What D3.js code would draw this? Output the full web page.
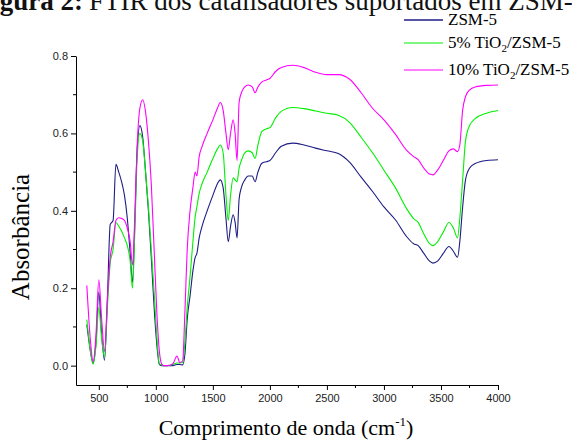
<!DOCTYPE html>
<html>
<head>
<meta charset="utf-8">
<script src="https://cdn.jsdelivr.net/npm/d3@7"></script>
<style>
body { margin: 0; background: #fff; }
svg { display: block; }
.tick text { font-family: "Liberation Sans", Arial, sans-serif; font-size: 11px; fill: #222; }
</style>
</head>
<body>
<div id="chart"></div>
<script>
// wavenumbers (cm-1) shared by the three spectra
var wavenumber = [395, 425, 450, 475, 500, 525, 550, 575, 600, 625, 650, 675, 700, 725, 750, 775, 795, 815, 835, 860,
  885, 910, 935, 960, 985, 1010, 1030, 1050, 1070, 1100, 1150, 1185, 1210, 1235, 1255, 1275, 1300, 1325, 1345, 1360,
  1380, 1405, 1450, 1500, 1540, 1565, 1590, 1615, 1635, 1655, 1678, 1695, 1712, 1730, 1750, 1780, 1810, 1845, 1870, 1895,
  1930, 1970, 2000, 2050, 2100, 2200, 2300, 2400, 2500, 2600, 2700, 2800, 2900, 3000, 3100, 3200, 3260, 3300, 3350, 3400,
  3430, 3470, 3520, 3570, 3610, 3645, 3665, 3690, 3715, 3750, 3800, 3900, 4000];

var zsm5 = [0.106, 0.04, 0.006, 0.06, 0.19, 0.08, 0.014, 0.17, 0.365, 0.375, 0.52, 0.50, 0.475, 0.44, 0.38, 0.29, 0.215, 0.36, 0.55, 0.62,
  0.59, 0.50, 0.40, 0.28, 0.15, 0.05, 0.004, 0.0, 0.0, 0.0, 0.0, 0.003, 0.003, 0.002, 0.03, 0.12, 0.18, 0.245, 0.28, 0.29,
  0.33, 0.36, 0.40, 0.44, 0.47, 0.48, 0.46, 0.38, 0.32, 0.36, 0.39, 0.37, 0.33, 0.43, 0.46, 0.48, 0.49, 0.49, 0.475, 0.50,
  0.523, 0.527, 0.53, 0.55, 0.567, 0.575, 0.57, 0.562, 0.555, 0.548, 0.525, 0.487, 0.45, 0.41, 0.377, 0.333, 0.315, 0.31, 0.29, 0.27,
  0.265, 0.27, 0.29, 0.308, 0.295, 0.28, 0.32, 0.41, 0.48, 0.51, 0.522, 0.53, 0.532];

var tio2_5 = [0.119, 0.04, 0.004, 0.05, 0.15, 0.07, 0.022, 0.15, 0.265, 0.30, 0.37, 0.36, 0.347, 0.33, 0.31, 0.27, 0.20, 0.34, 0.53, 0.60,
  0.58, 0.50, 0.41, 0.30, 0.19, 0.07, 0.005, 0.002, 0.0, 0.0, 0.003, 0.007, 0.007, 0.008, 0.06, 0.15, 0.23, 0.32, 0.385, 0.41,
  0.445, 0.47, 0.50, 0.535, 0.56, 0.57, 0.55, 0.44, 0.375, 0.44, 0.485, 0.48, 0.475, 0.51, 0.53, 0.55, 0.555, 0.55, 0.535, 0.57,
  0.605, 0.612, 0.615, 0.64, 0.657, 0.667, 0.664, 0.658, 0.652, 0.647, 0.628, 0.59, 0.55, 0.505, 0.46, 0.405, 0.38, 0.37, 0.34, 0.315,
  0.31, 0.32, 0.345, 0.37, 0.355, 0.33, 0.38, 0.48, 0.58, 0.62, 0.638, 0.652, 0.659];

var tio2_10 = [0.207, 0.07, 0.011, 0.08, 0.222, 0.12, 0.037, 0.17, 0.28, 0.32, 0.375, 0.382, 0.38, 0.375, 0.355, 0.32, 0.26, 0.38, 0.56, 0.665,
  0.687, 0.655, 0.58, 0.47, 0.30, 0.13, 0.04, 0.005, 0.0, 0.0, 0.005, 0.025, 0.008, 0.012, 0.14, 0.30, 0.40, 0.46, 0.50, 0.49,
  0.54, 0.566, 0.60, 0.635, 0.665, 0.68, 0.66, 0.60, 0.558, 0.60, 0.635, 0.60, 0.53, 0.68, 0.705, 0.72, 0.725, 0.72, 0.705, 0.72,
  0.733, 0.738, 0.742, 0.76, 0.77, 0.776, 0.77, 0.758, 0.752, 0.752, 0.74, 0.705, 0.665, 0.635, 0.598, 0.556, 0.54, 0.532, 0.51, 0.495,
  0.493, 0.505, 0.53, 0.555, 0.56, 0.553, 0.57, 0.66, 0.695, 0.712, 0.72, 0.724, 0.725];

var xTicks = [500, 1000, 1500, 2000, 2500, 3000, 3500, 4000];
var xMinor = [750, 1250, 1750, 2250, 2750, 3250, 3750];
var yTicks = [0.0, 0.2, 0.4, 0.6, 0.8];
var yMinor = [0.1, 0.3, 0.5, 0.7];

var seriesNames = ["ZSM-5", "5% TiO2/ZSM-5", "10% TiO2/ZSM-5"];
var seriesColors = ["#1c1c84", "#00f000", "#ff00ff"];

var width = 572, height = 446;
var plotLeft = 76, plotRight = 498, plotTop = 56, plotBottom = 385;
var serif = "'Liberation Serif', 'Times New Roman', serif";

var svg = d3.select("#chart").append("svg")
  .attr("width", width)
  .attr("height", height);

var x = d3.scaleLinear().domain([300, 4000]).range([plotLeft, plotRight]);
var y = d3.scaleLinear().domain([-0.05, 0.8]).range([plotBottom, plotTop]);

// page caption, cut off at the top of the picture
svg.append("text")
  .attr("x", 83)
  .attr("y", 10)
  .attr("text-anchor", "end")
  .style("font-family", serif)
  .style("font-size", "27px")
  .style("font-weight", "bold")
  .style("fill", "#111")
  .text("Figura 2:");
svg.append("text")
  .attr("x", 89)
  .attr("y", 10)
  .style("font-family", serif)
  .style("font-size", "27px")
  .style("fill", "#111")
  .text("FTIR dos catalisadores suportados em ZSM-5");

// axes
var xAxis = svg.append("g")
  .attr("transform", "translate(0," + plotBottom + ")")
  .call(d3.axisBottom(x).tickValues(xTicks).tickSize(5).tickPadding(4).tickSizeOuter(0).tickFormat(d3.format("d")));
xAxis.append("g").selectAll("line").data(xMinor).enter().append("line")
  .attr("x1", function(d){ return x(d); })
  .attr("x2", function(d){ return x(d); })
  .attr("y1", 0).attr("y2", 3)
  .attr("stroke", "#000");

var yAxis = svg.append("g")
  .attr("transform", "translate(" + plotLeft + ",0)")
  .call(d3.axisLeft(y).tickValues(yTicks).tickSize(5).tickPadding(3).tickSizeOuter(0).tickFormat(d3.format(".1f")));
yAxis.append("g").selectAll("line").data(yMinor).enter().append("line")
  .attr("y1", function(d){ return y(d); })
  .attr("y2", function(d){ return y(d); })
  .attr("x1", 0).attr("x2", -3)
  .attr("stroke", "#000");

svg.selectAll(".domain").attr("stroke", "#000");

// spectra
var line = d3.line()
  .x(function(d){ return x(d[0]); })
  .y(function(d){ return y(d[1]); })
  .curve(d3.curveMonotoneX);

[zsm5, tio2_5, tio2_10].forEach(function(vals, i){
  svg.append("path")
    .datum(wavenumber.map(function(w, j){ return [w, vals[j]]; }))
    .attr("fill", "none")
    .attr("stroke", seriesColors[i])
    .attr("stroke-width", 1.1)
    .attr("d", line);
});

// axis titles
svg.append("text")
  .attr("transform", "translate(29,237) rotate(-90)")
  .attr("text-anchor", "middle")
  .style("font-family", serif)
  .style("font-size", "25px")
  .text("Absorbância");

var xt = svg.append("text")
  .attr("x", 286)
  .attr("y", 435)
  .attr("text-anchor", "middle")
  .style("font-family", serif)
  .style("font-size", "22px");
xt.append("tspan").text("Comprimento de onda (cm");
xt.append("tspan").attr("dy", -9).style("font-size", "13px").text("-1");
xt.append("tspan").attr("dy", 9).text(")");

// legend
var legendY = [20, 43, 70];
var leg = svg.append("g");
seriesNames.forEach(function(name, i){
  leg.append("line")
    .attr("x1", 404).attr("x2", 443)
    .attr("y1", legendY[i]).attr("y2", legendY[i])
    .attr("stroke", seriesColors[i])
    .attr("stroke-width", i == 0 ? 1.4 : 1.1);
  var t = leg.append("text")
    .attr("x", 448)
    .attr("y", legendY[i] + 5)
    .style("font-family", serif)
    .style("font-size", "17px");
  var parts = name.split("TiO2");
  if (parts.length == 2) {
    t.append("tspan").text(parts[0] + "TiO");
    t.append("tspan").attr("dy", 4).style("font-size", "11px").text("2");
    t.append("tspan").attr("dy", -4).text(parts[1]);
  } else {
    t.text(name);
  }
});
</script>
</body>
</html>
